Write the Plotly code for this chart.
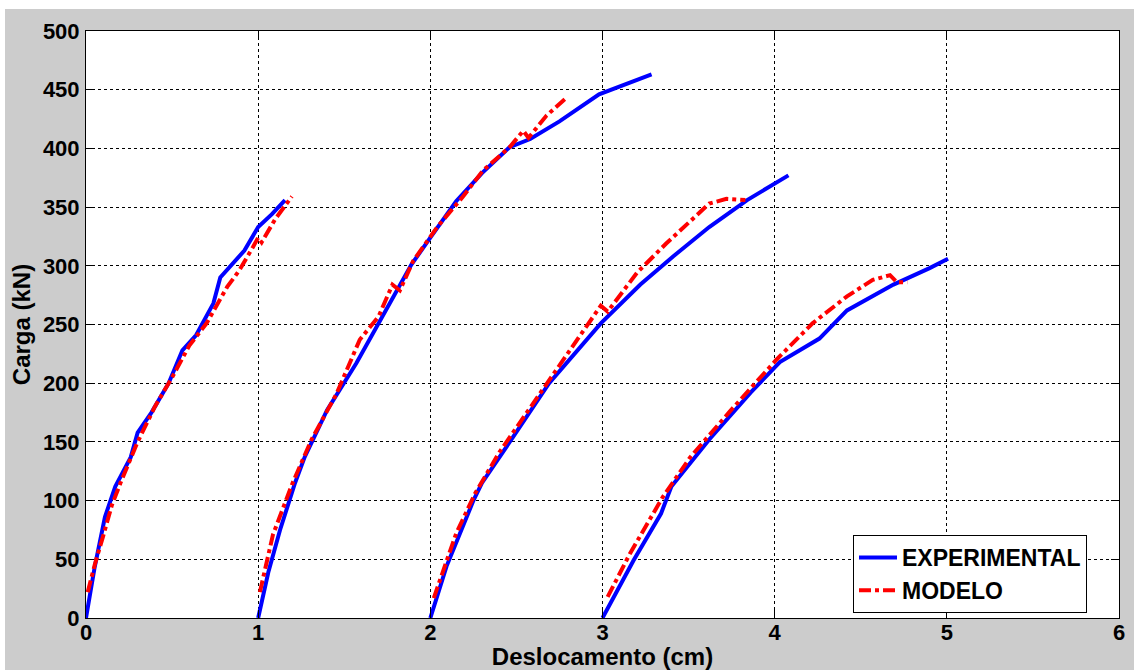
import plotly.graph_objects as go

# ---- data ----
exp1_x = [0.0, 0.05, 0.11, 0.17, 0.26, 0.30, 0.38, 0.48, 0.56, 0.64, 0.74, 0.78, 0.92, 1.0, 1.08, 1.156]
exp1_y = [0, 43, 86, 112, 137, 158, 175, 200, 228, 241, 268, 290, 313, 333, 344, 356]
mod1_x = [0.01, 0.05, 0.10, 0.15, 0.20, 0.30, 0.40, 0.50, 0.60, 0.70, 0.82, 0.89, 0.97, 1.0, 1.02, 1.10, 1.196]
mod1_y = [22, 45, 70, 96, 115, 150, 180, 205, 232, 251, 282, 296, 316, 324, 320, 340, 359]

exp2_x = [1.0, 1.059, 1.127, 1.214, 1.27, 1.40, 1.57, 1.71, 1.82, 1.89, 2.0, 2.15, 2.30, 2.46, 2.58, 2.75, 2.98, 3.285]
exp2_y = [0, 39, 75, 115, 137, 177, 217, 253, 283, 301, 324, 355, 379, 401, 408, 423, 446, 463]
mod2_x = [1.01, 1.086, 1.2, 1.31, 1.455, 1.59, 1.70, 1.78, 1.823, 1.90, 2.04, 2.19, 2.305, 2.46, 2.54, 2.57, 2.675, 2.79]
mod2_y = [22, 71, 115, 152, 191, 237, 257, 284, 279, 304, 333, 359, 381, 401, 415, 409, 428, 443]

exp3_x = [2.0, 2.094, 2.25, 2.30, 2.48, 2.69, 2.99, 3.22, 3.41, 3.62, 3.84, 4.08]
exp3_y = [0, 44, 100, 115, 154, 200, 251, 284, 308, 333, 356, 377]
mod3_x = [2.02, 2.15, 2.26, 2.40, 2.65, 2.89, 2.99, 3.03, 3.20, 3.37, 3.52, 3.62, 3.72, 3.83]
mod3_y = [17, 72, 106, 141, 194, 244, 266, 261, 294, 319, 339, 353, 357, 356]

exp4_x = [3.0, 3.18, 3.34, 3.40, 3.62, 3.86, 4.03, 4.26, 4.42, 4.69, 4.90, 5.007]
exp4_y = [0, 49, 89, 112, 152, 192, 218, 238, 262, 284, 298, 306]
mod4_x = [3.03, 3.16, 3.35, 3.51, 3.74, 4.01, 4.22, 4.42, 4.57, 4.67, 4.71, 4.77]
mod4_y = [18, 55, 103, 137, 176, 220, 251, 274, 288, 292, 286, 286]

exp_series = [(exp1_x, exp1_y), (exp2_x, exp2_y), (exp3_x, exp3_y), (exp4_x, exp4_y)]
mod_series = [(mod1_x, mod1_y), (mod2_x, mod2_y), (mod3_x, mod3_y), (mod4_x, mod4_y)]

x_ticks = [0, 1, 2, 3, 4, 5, 6]
y_ticks = [0, 50, 100, 150, 200, 250, 300, 350, 400, 450, 500]

FONT = "Liberation Sans, Arial, sans-serif"

fig = go.Figure()
for i, (xs, ys) in enumerate(exp_series):
    fig.add_trace(go.Scatter(x=xs, y=ys, mode="lines", name="EXPERIMENTAL",
                             legendgroup="exp", showlegend=(i == 0),
                             line=dict(color="#0000FF", width=4)))
for i, (xs, ys) in enumerate(mod_series):
    fig.add_trace(go.Scatter(x=xs, y=ys, mode="lines", name="MODELO",
                             legendgroup="mod", showlegend=(i == 0),
                             line=dict(color="#FF0000", width=4, dash="dashdot")))

W, H = 1134, 670
L, R, T, B = 86, 15, 31, 52
pw, ph = W - L - R, H - T - B

def px_x(p):
    return (p - L) / pw

def px_y(p):
    return (H - B - p) / ph

axis_common = dict(
    showline=True, linecolor="black", linewidth=1, mirror="allticks",
    ticks="inside", ticklen=8, tickcolor="black",
    showgrid=True, gridcolor="black", gridwidth=1, griddash="dot",
    zeroline=False,
    tickfont=dict(family=FONT, size=22, color="black", weight="bold"),
)

fig.update_layout(
    width=W, height=H,
    margin=dict(l=L, r=R, t=T, b=B, autoexpand=False),
    paper_bgcolor="#CCCCCC", plot_bgcolor="white",
    font=dict(family=FONT, color="black"),
    xaxis=dict(range=[0, 6], tickvals=x_ticks, ticktext=[str(v) for v in x_ticks],
               ticklabelstandoff=-5,
               title=dict(text="Deslocamento (cm)", standoff=22,
                          font=dict(family=FONT, size=24, color="black", weight="bold")),
               automargin=False, **axis_common),
    yaxis=dict(range=[0, 500], tickvals=y_ticks, ticktext=[str(v) for v in y_ticks],
               ticklabelstandoff=1,
               title=dict(text="Carga (kN)", standoff=5,
                          font=dict(family=FONT, size=24, color="black", weight="bold")),
               automargin=False, **axis_common),
    legend=dict(x=px_x(853), y=px_y(535), xanchor="left", yanchor="top",
                bgcolor="white", bordercolor="black", borderwidth=1,
                font=dict(family=FONT, size=23, color="black", weight="bold"),
                itemwidth=38, tracegroupgap=0),
    showlegend=True,
    shapes=[
        dict(type="rect", xref="paper", yref="paper", layer="below",
             x0=px_x(0), x1=px_x(W), y0=px_y(9), y1=px_y(0),
             fillcolor="white", line=dict(width=0)),
        dict(type="rect", xref="paper", yref="paper", layer="below",
             x0=px_x(0), x1=px_x(5), y0=px_y(H), y1=px_y(0),
             fillcolor="white", line=dict(width=0)),
    ],
)

fig.write_html("out.html", config={"displayModeBar": False},
               post_script="document.body.style.margin='0';document.body.style.overflow='hidden';")
